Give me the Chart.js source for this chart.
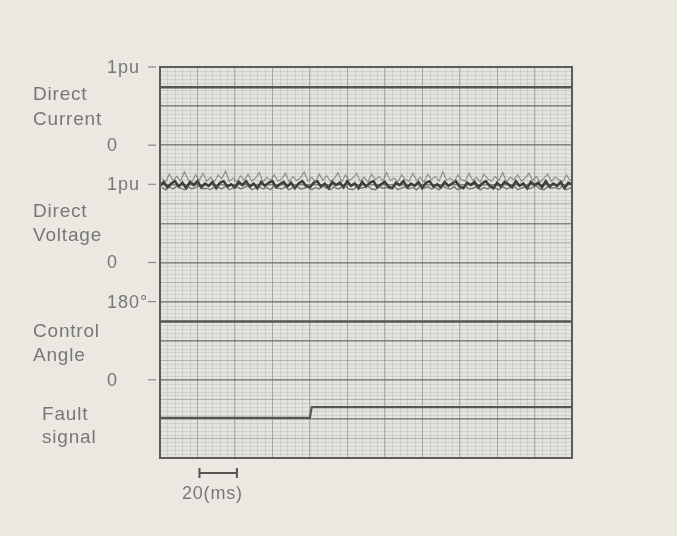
<!DOCTYPE html>
<html><head><meta charset="utf-8">
<script src="https://cdn.jsdelivr.net/npm/chart.js@4.4.1/dist/chart.umd.min.js"></script>
<style>html,body{margin:0;padding:0;background:#ebe8e2;}canvas{display:block}</style>
</head><body>
<canvas id="c" width="677" height="536"></canvas>
<script>
// ---- data read from the recording ----
const timeRangeMs = [0, 220];
const divisionMs = 20;
const dcTimesMs = [0, 220];
const directCurrentPu = [0.74, 0.74];
const caTimesMs = [0, 220];
const controlAngleDeg = [134, 134];
const faultTimesMs = [0, 80, 81, 220];
const faultSignal = [0, 0, 1, 1];
const dvCorePu = [
0.98,1.03,0.96,1.01,1.04,0.97,1.02,0.95,1.03,0.99,
1.04,0.96,1.01,0.98,1.03,0.95,1.02,1.04,0.97,1.00,
0.96,1.03,0.99,1.04,0.97,1.01,0.95,1.03,0.98,1.02,
1.04,0.96,1.00,1.03,0.97,1.02,0.95,1.01,1.04,0.98,
0.96,1.02,1.04,0.97,1.01,0.95,1.03,0.99,1.02,0.96,
1.04,0.98,1.01,0.95,1.03,0.97,1.02,1.04,0.96,1.00,
1.03,0.97,0.95,1.02,0.99,1.04,0.96,1.01,0.98,1.03,
0.95,1.02,1.04,0.97,1.00,0.96,1.03,0.98,1.01,1.04,
0.97,0.95,1.02,0.99,1.03,0.96,1.01,1.04,0.98,0.95,
1.02,0.97,1.03,1.00,0.96,1.04,0.98,1.01,0.95,1.03,
0.99,1.02,0.96,1.04,0.97,1.01,0.98,1.03,0.95,1.02,
1.00];
const dvSpikePu = [
1.08,1.03,1.13,1.05,1.10,1.04,1.16,1.06,1.03,1.12,
1.05,1.14,1.04,1.09,1.03,1.12,1.07,1.17,1.04,1.08,
1.03,1.11,1.05,1.13,1.04,1.08,1.15,1.03,1.09,1.05,
1.12,1.04,1.07,1.14,1.03,1.10,1.05,1.08,1.16,1.04,
1.09,1.03,1.13,1.05,1.11,1.04,1.07,1.15,1.03,1.12,
1.05,1.08,1.14,1.04,1.09,1.03,1.13,1.06,1.10,1.04,
1.15,1.05,1.08,1.03,1.12,1.06,1.04,1.14,1.05,1.09,
1.03,1.13,1.06,1.10,1.04,1.16,1.05,1.08,1.03,1.12,
1.06,1.04,1.14,1.05,1.09,1.03,1.13,1.07,1.04,1.10,
1.05,1.15,1.03,1.09,1.06,1.12,1.04,1.08,1.14,1.05,
1.10,1.03,1.08,1.13,1.04,1.09,1.06,1.03,1.12,1.05,
1.08];
const dvLowPu = [
0.96,0.93,0.97,0.94,0.98,0.95,0.93,0.97,0.94,0.96,
0.98,0.94,0.95,0.93,0.97,0.96,0.94,0.98,0.93,0.95,
0.97,0.94,0.96,0.98,0.93,0.95,0.97,0.94,0.96,0.93,
0.98,0.95,0.94,0.97,0.93,0.96,0.98,0.94,0.95,0.97,
0.93,0.96,0.94,0.98,0.95,0.93,0.97,0.94,0.96,0.98,
0.94,0.93,0.97,0.95,0.96,0.98,0.94,0.93,0.97,0.95,
0.96,0.94,0.98,0.93,0.95,0.97,0.94,0.96,0.93,0.98,
0.95,0.97,0.94,0.96,0.93,0.98,0.95,0.94,0.97,0.93,
0.96,0.98,0.94,0.95,0.97,0.93,0.96,0.94,0.98,0.95,
0.93,0.97,0.94,0.96,0.98,0.93,0.95,0.97,0.94,0.96,
0.98,0.94,0.93,0.97,0.95,0.96,0.94,0.98,0.93,0.95,
0.97];
const tickLabels = ['1pu','0','1pu','0','180°','0'];
const tickRows = [20,16,14,10,8,4];
const channelNames = [['Direct','Current'],['Direct','Voltage'],['Control','Angle'],['Fault','signal']];
const scaleBarLabel = '20(ms)';

// ---- channel placement on the 20-row oscilloscope grid ----
const dcRow = pu => 16 + 4*pu;
const dvRow = pu => 10 + 4*pu;
const caRow = deg => 4 + 4*deg/180;
const faultRow = v => 2.05 + 0.55*v;

const pts = (xs, ys, f) => ys.map((v,i)=>({x:xs[i], y:f(v)}));
const dvCoreT = dvCorePu.map((_,i)=>i*2);
const dvSpikeT = dvSpikePu.map((_,i)=>i*2+1);
const dvLowT = dvLowPu.map((_,i)=>i*2+1);

const FONT = '"Liberation Sans", Arial, sans-serif';
const TEXT = '#777777';
const nameLayout = [[33,100,125],[33,217,241],[33,337,361],[42,420,443]];

const decor = {
  id:'decor',
  beforeDraw(chart){
    const {ctx, chartArea:a, scales:{x,y}} = chart;
    ctx.save();
    ctx.fillStyle='#ebe8e2'; ctx.fillRect(0,0,chart.width,chart.height);
    ctx.fillStyle='#e4e3dd'; ctx.fillRect(a.left,a.top,a.right-a.left,a.bottom-a.top);
    ctx.lineWidth=1; ctx.strokeStyle='rgba(110,110,110,0.15)';
    ctx.beginPath();
    for(let t=0;t<=220;t+=4){const px=Math.round(x.getPixelForValue(t))+0.5;ctx.moveTo(px,a.top);ctx.lineTo(px,a.bottom);}
    for(let r=0;r<=20;r+=0.2){const py=Math.round(y.getPixelForValue(r))+0.5;ctx.moveTo(a.left,py);ctx.lineTo(a.right,py);}
    ctx.stroke();
    ctx.restore();
  },
  afterDraw(chart){
    const {ctx, chartArea:a, scales:{x,y}} = chart;
    ctx.save();
    ctx.strokeStyle='#5b5b5b'; ctx.lineWidth=2;
    ctx.strokeRect(a.left,a.top,a.right-a.left,a.bottom-a.top);
    // tick dashes and labels
    ctx.strokeStyle='#8a8a8a'; ctx.lineWidth=1.2;
    ctx.fillStyle=TEXT; ctx.font='18px '+FONT; ctx.letterSpacing='1px';
    ctx.textAlign='left'; ctx.textBaseline='middle';
    tickRows.forEach((r,i)=>{
      const py=y.getPixelForValue(r);
      ctx.beginPath(); ctx.moveTo(a.left-12,py); ctx.lineTo(a.left-4,py); ctx.stroke();
      ctx.fillText(tickLabels[i],107,py+1);
    });
    // channel names
    ctx.font='19px '+FONT; ctx.letterSpacing='0.8px'; ctx.textBaseline='alphabetic';
    channelNames.forEach((n,i)=>{
      const [lx,b1,b2]=nameLayout[i];
      ctx.fillText(n[0],lx,b1); ctx.fillText(n[1],lx,b2);
    });
    // time scale bar
    const x1=x.getPixelForValue(divisionMs)+2, x2=x.getPixelForValue(2*divisionMs)+2;
    const by=473;
    ctx.strokeStyle='#555'; ctx.lineWidth=2;
    ctx.beginPath(); ctx.moveTo(x1,by); ctx.lineTo(x2,by);
    ctx.moveTo(x1,by-5); ctx.lineTo(x1,by+5); ctx.moveTo(x2,by-5); ctx.lineTo(x2,by+5); ctx.stroke();
    ctx.font='18px '+FONT; ctx.letterSpacing='0.8px'; ctx.textAlign='left';
    ctx.fillText(scaleBarLabel,182,499);
    ctx.restore();
  }
};

new Chart(document.getElementById('c'), {
  type:'line',
  data:{datasets:[
    {data:pts(dcTimesMs,directCurrentPu,dcRow), borderColor:'#555', borderWidth:2.5},
    {data:pts(dvSpikeT,dvSpikePu,dvRow), borderColor:'rgba(110,110,110,0.7)', borderWidth:1.2},
    {data:pts(dvLowT,dvLowPu,dvRow), borderColor:'rgba(80,80,80,0.7)', borderWidth:1.4},
    {data:pts(dvCoreT,dvCorePu,dvRow), borderColor:'#3d3d3d', borderWidth:2.5},
    {data:pts(caTimesMs,controlAngleDeg,caRow), borderColor:'#555', borderWidth:2.5},
    {data:pts(faultTimesMs,faultSignal,faultRow), borderColor:'#555', borderWidth:2.2}
  ]},
  options:{
    responsive:false, animation:false,
    layout:{padding:{left:160,top:67,right:105,bottom:78}},
    elements:{point:{radius:0}, line:{tension:0}},
    plugins:{legend:{display:false}, tooltip:{enabled:false}},
    scales:{
      x:{type:'linear', min:timeRangeMs[0], max:timeRangeMs[1],
         ticks:{display:false, stepSize:divisionMs}, border:{display:false},
         grid:{drawTicks:false, color:'rgba(125,125,125,0.5)', lineWidth:1},
         afterFit(s){s.height=0;}},
      y:{type:'linear', min:0, max:20,
         ticks:{display:false, stepSize:1}, border:{display:false},
         grid:{drawTicks:false,
           color:c=>c.tick && c.tick.value%2===0 ? 'rgba(95,95,95,0.7)' : 'rgba(140,140,140,0.45)',
           lineWidth:c=>c.tick && c.tick.value%2===0 ? 1.5 : 1},
         afterFit(s){s.width=0;}}
    }
  },
  plugins:[decor]
});
</script>
</body></html>
